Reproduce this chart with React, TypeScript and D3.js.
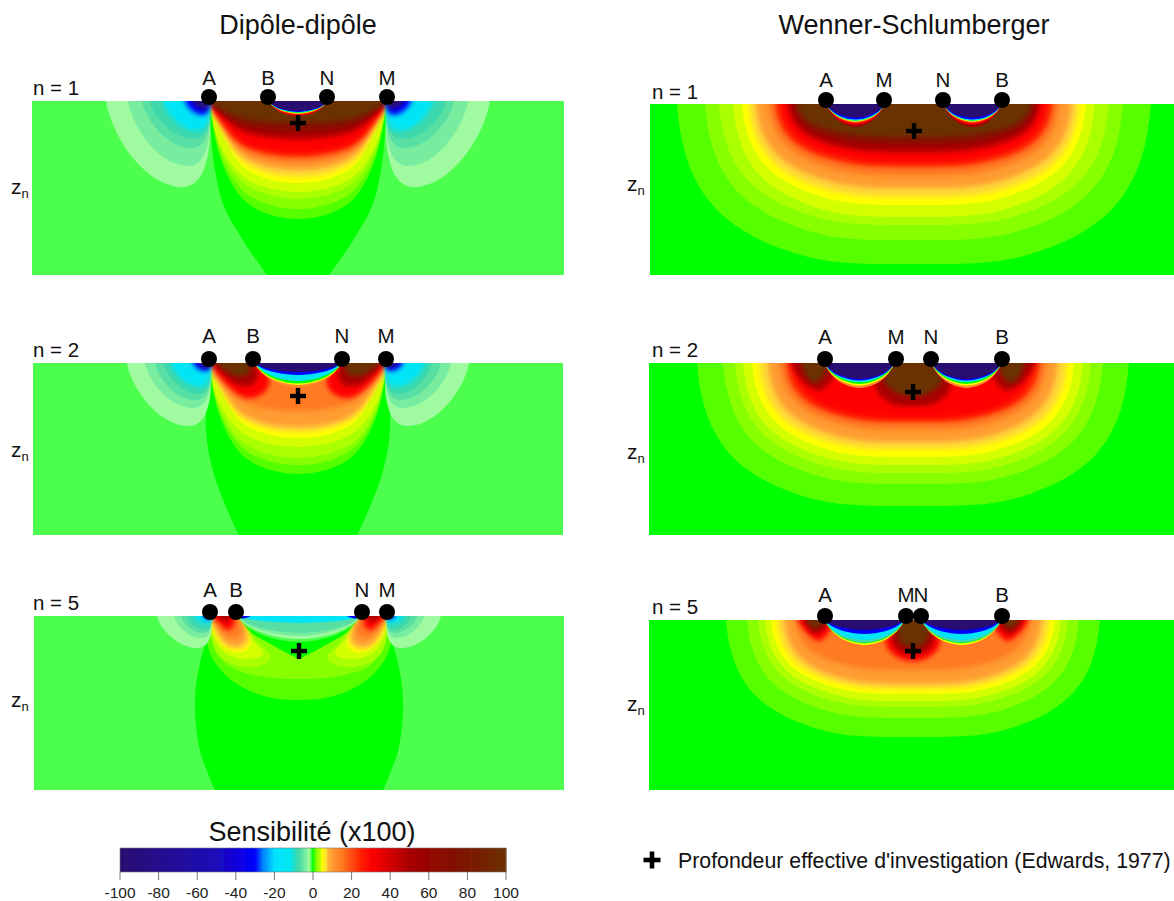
import React from "react";
import * as d3 from "d3";

const colorLevels = [-100,-50,-30,-26,-20,-12,-8,-6,-4,-2,-1,0,1,2,3,4,5,7,8,10,15,25,30,50,70,100];
const colorValues = ["#2a0a70","#1c08b8","#0000ff","#0080ff","#00e0ff","#00e8f0","#3cd8ac","#58dfa4","#78eda0","#a0faa0","#4dff4d","#00ff00","#55ff00","#88ff00","#aaff00","#d4ff00","#ffff00","#ffd838","#ffb030","#ff9c30","#ff7a20","#ff2000","#ff0000","#a80000","#860c00","#6b3000"];
const colorTicks = [-100,-80,-60,-40,-20,0,20,40,60,80,100];

// Outline shapes, as fractions of a contour's read surface half-width and depth
const fatDomeProfile = [[0,1],[.2,.985],[.4,.94],[.6,.85],[.75,.7],[.86,.52],[.93,.34],[.98,.12],[1,0]];
const sharpDomeProfile = [[0,1],[.2,.985],[.4,.93],[.6,.82],[.72,.67],[.81,.49],[.88,.33],[.94,.19],[.98,.06],[1,0]];
const flatProfile = [[0,1],[.15,1],[.3,.99],[.42,.965],[.55,.91],[.7,.81],[.84,.65],[.93,.45],[.98,.22],[1,0]];
const lobeProfile = [[0,0],[-.01,.25],[-.005,.5],[.03,.72],[.08,.87],[.15,.96],[.24,1],[.34,.99],[.46,.94],[.6,.83],[.74,.66],[.85,.47],[.93,.28],[.98,.11],[1,0]];
const lensProfile = [[0,0],[.1,.45],[.25,.8],[.5,1],[.75,.8],[.9,.45],[1,0]];

// [level, surface half-width, depth at centre]
const dd1Domes = [[1,88.5,118],[2,88.5,108],[3,88.5,98],[4,88.5,91],[5,88.5,82],[7,88.5,76],[10,88.5,69],[15,88.5,62],[25,88.5,56],[30,88.5,52],[50,88.5,38],[70,88.5,30],[100,88.5,22]];
const dd2Domes = [[1,89,111],[2,89,102],[3,89,95],[4,89,84],[5,89,75],[7,89,69],[10,89,64],[15,89,48]];
const ws1Domes = [[1,237,160],[2,209,136],[3,195,121],[4,181,113],[5,172,101],[7,165,93],[10,158,84],[15,146,72],[25,139,63],[30,133,58],[50,126,48],[70,120,40],[100,117,33]];
const ws2Domes = [[1,216,143],[2,190,121],[3,178,110],[4,170,102],[5,161,94],[7,154,86],[10,145,79],[15,134,67],[25,127,59],[30,120,55]];
const ws5Domes = [[1,187,117],[2,166,98],[3,155,87],[4,148,81],[5,142,74],[7,136,69],[10,129,64],[15,118,50]];

// [level, reach past the outer electrode, depth]
const dd1Lobes = [[-2,103,86],[-4,81,65],[-6,67,47],[-8,59,38],[-15,46,30],[-30,24,14],[-100,17,8]];
const dd2Lobes = [[-2,83,63],[-4,65,45],[-6,55,37],[-8,46,31],[-15,39,24],[-30,17,8],[-100,12,5]];
const dd5Lobes = [[-2,54,32],[-4,37,22],[-6,30,17],[-8,24,14],[-15,17,8],[-30,8,3]];

// [level, depth at the middle of the lens]
const dd1Lens = [[30,15],[12,13],[5,12.5],[0,12],[-15,11.5],[-30,11],[-100,10]];
const dd2Lens = [[12,24],[5,22],[0,20.5],[-15,18],[-30,12],[-100,9]];
const dd5Lens = [[-1,26],[-2,23],[-4,20],[-6,17],[-15,7]];
const ws1Lens = [[50,23],[30,20.5],[12,18.5],[5,17.5],[0,17],[-15,16.5],[-30,15.5],[-100,13.5]];
const ws2Lens = [[12,25],[5,22.5],[0,21],[-15,19],[-30,17.5],[-100,16]];
const ws5Lens = [[5,25],[0,23.5],[-8,22.5],[-15,20],[-30,14],[-100,10]];

// Zero contours and other read outlines: [distance from centre, depth]
const dd1Zero = [[0,196],[20,186],[31,174],[41,160],[51,146],[60,131],[68,118],[76,100],[81,80],[85,55],[87,30],[88,0]];
const dd2Zero = [[0,205],[45,190],[59,172],[68,153],[76,134],[82,118],[87,100],[90,85],[92,67],[92,50],[91,30],[89,0]];
const dd5Zero = [[0,220],[72,195],[84,174],[92,155],[99,135],[103,110],[104,90],[103,70],[99,47],[92,20],[89,0]];

const dd2Blobs = [
  { level: 30, pts: [[40,0],[29,14],[31,26],[42,34],[55,34],[68,25],[80,12],[88,0]] },
  { level: 50, pts: [[44,0],[40,12],[46,22],[60,22],[72,14],[86,0]] },
  { level: 100, pts: [[46,0],[50,11],[62,13],[75,6],[82,0]] },
];
const dd5Blobs = [
  { level: 1, pts: [[0,84],[35,80],[65,66],[85,45],[92,25],[89,0]] },
  { level: 2, pts: [[0,63],[40,60],[70,50],[85,30],[88,12],[89,0]] },
  { level: 0, pts: [[0,42],[10,38],[25,30],[50,15],[63,0]] },
  { level: 3, pts: [[62,0],[42,25],[28,42],[40,50],[60,50],[80,40],[88,20],[89,0]] },
  { level: 4, pts: [[62,0],[46,24],[36,38],[52,43],[74,37],[86,19],[89,0]] },
  { level: 5, pts: [[63,0],[52,16],[48,28],[56,36],[70,34],[82,22],[89,0]] },
  { level: 7, pts: [[63,0],[53,14],[50,26],[58,33],[71,31],[82,19],[88.5,0]] },
  { level: 10, pts: [[62,0],[54,12],[53,24],[60,30],[72,28],[81,16],[88,0]] },
  { level: 15, pts: [[63,0],[58,10],[59,19],[66,22],[76,17],[84,7],[88,0]] },
  { level: 30, pts: [[65,0],[65,9],[72,14],[80,7],[87,0]] },
  { level: 50, pts: [[68,0],[72,6],[78,3],[84,0]] },
];
const dd5Tips = [{ level: -30, pts: [[63,0],[56,2.5],[48,0]] }];
const ws2Blobs = [
  { level: 50, pts: [[0,43],[20,41],[36,28],[36,10],[20,0]] },
  { level: 100, pts: [[0,33],[14,31],[28,20],[26,8],[18,0]] },
  { level: 50, pts: [[72,0],[80,15],[92,27],[106,22],[118,8],[122,0]] },
  { level: 100, pts: [[85,0],[90,14],[98,20],[106,14],[112,0]] },
];
const ws5Blobs = [
  { level: 30, pts: [[0,41],[14,38],[26,27],[26,12],[20,0]] },
  { level: 50, pts: [[0,34],[12,32],[21,21],[19,8],[14,0]] },
  { level: 100, pts: [[0,27],[10,25],[16,14],[14,4],[10,0]] },
  { level: 30, pts: [[78,0],[84,12],[94,21],[104,15],[112,6],[115,0]] },
  { level: 50, pts: [[84,0],[90,10],[97,14],[105,8],[110,0]] },
  { level: 100, pts: [[88,0],[94,7],[100,8],[106,0]] },
];

const ddNames = ["A","B","N","M"];
const wsNames = ["A","M","N","B"];
const dd1Electrodes = [-89,-30,29,89];
const dd2Electrodes = [-89,-45,44,88];
const dd5Electrodes = [-89,-63,63,88];
const ws1Electrodes = [-88,-30,29,88];
const ws2Electrodes = [-88,-17,18,89];
const ws5Electrodes = [-88,-7,8,89];

const legendText = "Profondeur effective d'investigation (Edwards, 1977)";
const FONT = "'Liberation Sans', Arial, sans-serif";

const panels = [
  { id: "dd1", n: 1, left: 32, right: 564, top: 101, bottom: 275, bg: -1, names: ddNames, el: dd1Electrodes, zero: dd1Zero, domes: dd1Domes, flat: false, blobs: [], tips: [], lobes: dd1Lobes, lens: dd1Lens, lensSpan: [-30,30], plus: 22, eY: 97, lY: 85, nX: 33, nY: 95, zX: 11, zY: 194 },
  { id: "dd2", n: 2, left: 33, right: 563, top: 363, bottom: 535, bg: -1, names: ddNames, el: dd2Electrodes, zero: dd2Zero, domes: dd2Domes, flat: false, blobs: dd2Blobs, tips: [], lobes: dd2Lobes, lens: dd2Lens, lensSpan: [-44,44], plus: 33, eY: 359, lY: 343, nX: 33, nY: 357, zX: 11, zY: 457 },
  { id: "dd5", n: 5, left: 34, right: 564, top: 616, bottom: 790, bg: -1, names: ddNames, el: dd5Electrodes, zero: dd5Zero, domes: [], flat: false, blobs: dd5Blobs, tips: dd5Tips, lobes: dd5Lobes, lens: dd5Lens, lensSpan: [-63,63], plus: 35, eY: 612, lY: 597, nX: 33, nY: 610, zX: 11, zY: 707 },
  { id: "ws1", n: 1, left: 650, right: 1178, top: 104, bottom: 275, bg: 0, names: wsNames, el: ws1Electrodes, zero: null, domes: ws1Domes, flat: true, blobs: [], tips: [], lobes: [], lens: ws1Lens, lensSpan: [29,88], plus: 27, eY: 100, lY: 87, nX: 652, nY: 99, zX: 627, zY: 191 },
  { id: "ws2", n: 2, left: 649, right: 1177, top: 363, bottom: 535, bg: 0, names: wsNames, el: ws2Electrodes, zero: null, domes: ws2Domes, flat: true, blobs: ws2Blobs, tips: [], lobes: [], lens: ws2Lens, lensSpan: [18,89], plus: 29, eY: 359, lY: 344, nX: 652, nY: 357, zX: 627, zY: 459 },
  { id: "ws5", n: 5, left: 649, right: 1177, top: 620, bottom: 790, bg: 0, names: wsNames, el: ws5Electrodes, zero: null, domes: ws5Domes, flat: true, blobs: ws5Blobs, tips: [], lobes: [], lens: ws5Lens, lensSpan: [8,89], plus: 31, eY: 616, lY: 602, nX: 652, nY: 614, zX: 627, zY: 711 },
];

const color = d3.scaleLinear<string>().domain(colorLevels).range(colorValues).interpolate(d3.interpolateRgb);

function Plus({ x, y, size = 16, w = 4.4 }: any) {
  return (
    <g stroke="#000" strokeWidth={w}>
      <line x1={x - size / 2} x2={x + size / 2} y1={y} y2={y} />
      <line x1={x} x2={x} y1={y - size / 2} y2={y + size / 2} />
    </g>
  );
}

function Panel({ p }: any) {
  const half = (p.right - p.left) / 2;
  const x = d3.scaleLinear().domain([-half, half]).range([p.left, p.right]);
  const y = d3.scaleLinear().domain([0, p.bottom - p.top]).range([p.top, p.bottom]);
  const line = d3.line<number[]>().x((d) => x(d[0])).y((d) => y(d[1])).curve(d3.curveCatmullRom.alpha(0.5));
  const close = (pts: number[][]) =>
    `${line(pts)}L${x(pts[pts.length - 1][0])},${y(-8)}L${x(pts[0][0])},${y(-8)}Z`;
  const paths = (pts: number[][]) => {
    if (pts[0][0] === 0) {
      const left = pts.slice(1).reverse().map((d) => [-d[0], d[1]]);
      return [close([...left, ...pts])];
    }
    return [close(pts), close(pts.map((d) => [-d[0], d[1]]))];
  };
  const layers: { level: number; d: string; filter: string }[] = [];
  const soft = (level: number) => (level >= 7 || level <= -12 ? "url(#soft)" : "url(#fine)");
  const add = (level: number, pts: number[][], filter = soft(level)) =>
    paths(pts).forEach((d) => layers.push({ level, d, filter }));
  if (p.zero) add(0, p.zero);
  p.domes.forEach(([level, s, z]: number[]) => {
    const profile = p.flat ? flatProfile : level <= 4 ? fatDomeProfile : sharpDomeProfile;
    add(level, profile.map((f: number[]) => [f[0] * s, f[1] * z]));
  });
  p.blobs.forEach((b: any) => add(b.level, b.pts));
  const outer = p.el[3];
  p.lobes.forEach(([level, s, z]: number[]) => add(level, lobeProfile.map((f) => [outer + f[0] * s, f[1] * z])));
  const [a, b] = p.lensSpan;
  p.lens.forEach(([level, z]: number[]) => {
    const pts = lensProfile.map((f) => [a + f[0] * (b - a), f[1] * z]);
    if (a < 0) layers.push({ level, d: close(pts), filter: "url(#fine)" });
    else add(level, pts, "url(#fine)");
  });
  p.tips.forEach((t: any) => add(t.level, t.pts, "url(#fine)"));
  return (
    <g>
      <clipPath id={`clip-${p.id}`}>
        <rect x={p.left} y={p.top} width={p.right - p.left} height={p.bottom - p.top} />
      </clipPath>
      <g clipPath={`url(#clip-${p.id})`}>
        <rect x={p.left} y={p.top} width={p.right - p.left} height={p.bottom - p.top} fill={color(p.bg)} />
        {layers.map((l, i) => (
          <path key={i} d={l.d} fill={color(l.level)} filter={l.filter} />
        ))}
      </g>
      <Plus x={x(0)} y={y(p.plus)} />
      {p.el.map((e: number, i: number) => (
        <g key={i}>
          <circle cx={x(e)} cy={p.eY} r={8} fill="#000" />
          <text x={x(e)} y={p.lY} textAnchor="middle" fontSize={20.5} fill="#111">{p.names[i]}</text>
        </g>
      ))}
      <text x={p.nX} y={p.nY} fontSize={20.5} fill="#111">n = {p.n}</text>
      <text x={p.zX} y={p.zY} fontSize={21} fill="#111">z<tspan fontSize={13} dy={4}>n</tspan></text>
    </g>
  );
}

function ColorBar() {
  const s = d3.scaleLinear().domain([-100, 100]).range([120, 506]);
  const pixels = d3.range(120, 506);
  return (
    <g>
      <g filter="url(#fine)">
        {pixels.map((px) => (
          <rect key={px} x={px} y={848} width={1.5} height={24} fill={color(s.invert(px + 0.5))} />
        ))}
      </g>
      <rect x={120} y={848} width={386} height={24} fill="none" stroke="#777" strokeWidth={0.6} />
      {colorTicks.map((t) => (
        <g key={t}>
          <line x1={s(t)} x2={s(t)} y1={872} y2={880} stroke="#777" />
          <text x={s(t)} y={898} textAnchor="middle" fontSize={15.5} fill="#222">{t}</text>
        </g>
      ))}
      <text x={312} y={841} textAnchor="middle" fontSize={27} fill="#111">Sensibilité (x100)</text>
    </g>
  );
}

export default function App() {
  return (
    <svg width={1174} height={901} fontFamily={FONT} style={{ position: "absolute", left: 0, top: 0, background: "#fff" }}>
      <defs>
        <filter id="soft" x="-30%" y="-30%" width="160%" height="160%"><feGaussianBlur stdDeviation="2.6" /></filter>
        <filter id="fine" x="-30%" y="-30%" width="160%" height="160%"><feGaussianBlur stdDeviation="0.5" /></filter>
      </defs>
      <text x={298} y={34} textAnchor="middle" fontSize={27} fill="#111">Dipôle-dipôle</text>
      <text x={914} y={34} textAnchor="middle" fontSize={27} fill="#111">Wenner-Schlumberger</text>
      {panels.map((p) => <Panel key={p.id} p={p} />)}
      <ColorBar />
      <Plus x={652} y={860} size={17} w={4.6} />
      <text x={678} y={868} fontSize={21.3} fill="#111">{legendText}</text>
    </svg>
  );
}
